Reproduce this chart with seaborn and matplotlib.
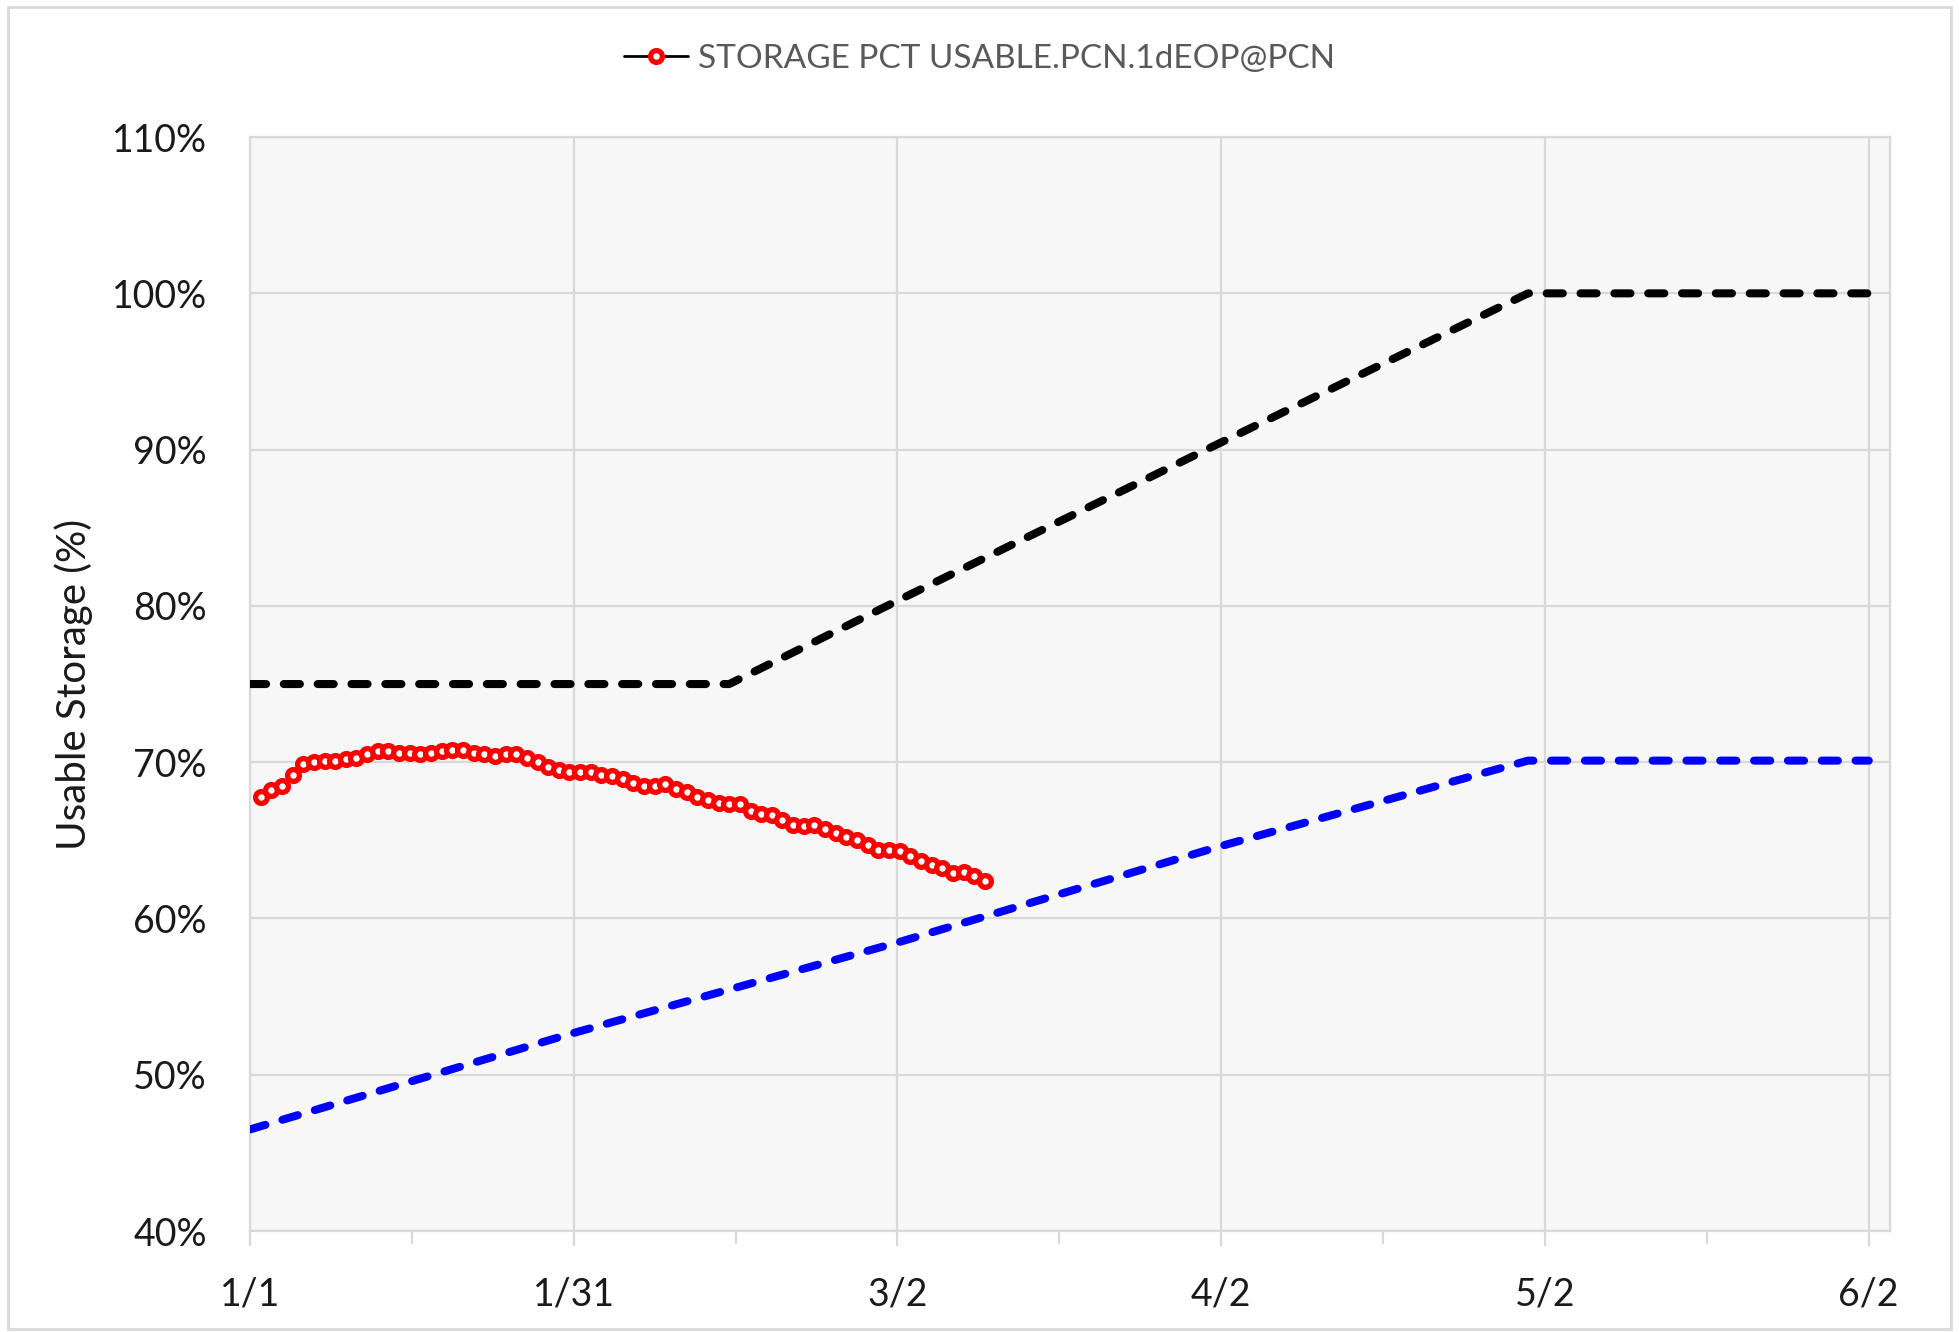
import matplotlib.pyplot as plt
import matplotlib.patches as mpatches
import numpy as np
import pandas as pd
import seaborn as sns

# daily storage observations (day 1 = Jan 2)
storage_days = list(range(1, 70))
storage_pct = [
    67.8, 68.2, 68.5, 69.2, 69.9, 70.0, 70.1, 70.1, 70.2, 70.3,
    70.5, 70.7, 70.7, 70.6, 70.6, 70.5, 70.6, 70.7, 70.8, 70.8,
    70.6, 70.5, 70.4, 70.5, 70.5, 70.3, 70.0, 69.7, 69.5, 69.4,
    69.4, 69.4, 69.2, 69.1, 68.9, 68.7, 68.5, 68.5, 68.6, 68.3,
    68.1, 67.8, 67.6, 67.4, 67.3, 67.3, 66.9, 66.7, 66.6, 66.3,
    66.0, 65.9, 66.0, 65.7, 65.5, 65.2, 65.0, 64.7, 64.4, 64.4,
    64.3, 64.0, 63.7, 63.4, 63.2, 62.9, 63.0, 62.7, 62.4,
]

# upper rule curve (black dashed)
upper_days = [0, 45, 61, 91, 120, 152]
upper_pct = [75.0, 75.0, 80.4, 90.4, 100.0, 100.0]

# lower rule curve (blue dashed)
lower_days = [0, 30, 61, 91, 120, 152]
lower_pct = [46.5, 52.6, 58.5, 64.6, 70.1, 70.1]

tick_labels = ["1/1", "1/31", "3/2", "4/2", "5/2", "6/2"]
series_name = "STORAGE PCT USABLE.PCN.1dEOP@PCN"

storage_df = pd.DataFrame({"day": storage_days, "pct": storage_pct})
upper_df = pd.DataFrame({"day": upper_days, "pct": upper_pct})
lower_df = pd.DataFrame({"day": lower_days, "pct": lower_pct})

sns.set_style("white")
plt.rcParams["font.family"] = ["Lato", "DejaVu Sans"]

fig = plt.figure(figsize=(19.59, 13.32), dpi=100)
ax = fig.add_axes([0.1276, 0.0758, 0.9648 - 0.1276, 0.8971 - 0.0758])
ax.set_facecolor("#f7f7f7")

sns.lineplot(data=upper_df, x="day", y="pct", ax=ax, color="black", lw=5.8,
             legend=False, zorder=3)
sns.lineplot(data=lower_df, x="day", y="pct", ax=ax, color="#0000ff", lw=5.8,
             legend=False, zorder=3)
for ln in ax.get_lines():
    ln.set_dashes((2.0, 2.2))
    ln.set_dash_capstyle("round")

sns.lineplot(data=storage_df, x="day", y="pct", ax=ax, color="black", lw=2,
             label=series_name, zorder=4)
for ln in ax.get_lines():
    if ln.get_label() == series_name:
        ln.set_marker("o")
        ln.set_markersize(8.5)
        ln.set_markerfacecolor("white")
        ln.set_markeredgecolor("red")
        ln.set_markeredgewidth(3.8)

ax.set_xlim(0, 154)
ax.set_ylim(40, 110)
ax.set_xticks(np.linspace(0, 152, 6))
ax.set_xticks(np.linspace(0, 152, 11), minor=True)
ax.set_xticklabels(tick_labels)
ax.set_yticks(range(40, 111, 10))
ax.set_yticklabels([f"{v}%" for v in range(40, 111, 10)])

ax.grid(True, which="major", color="#d9d9d9", lw=1.6, zorder=0)
ax.set_axisbelow(True)
for s in ax.spines.values():
    s.set_color("#d9d9d9")
    s.set_linewidth(1.6)

ax.tick_params(axis="x", which="major", bottom=True, length=11, width=1.6,
               color="#d9d9d9", pad=22, labelsize=27, labelcolor="#1a1a1a")
ax.tick_params(axis="x", which="minor", bottom=True, length=9, width=1.6,
               color="#d9d9d9")
ax.tick_params(axis="y", length=0, pad=31, labelsize=27, labelcolor="#1a1a1a")

ax.set_xlabel("")
ax.set_ylabel("Usable Storage (%)", fontsize=29, color="#1a1a1a")
ax.yaxis.set_label_coords(-0.096, 0.5)

ax.get_legend().remove()
handles, labels = ax.get_legend_handles_labels()
leg = fig.legend(handles, labels, loc="center", bbox_to_anchor=(0.5, 0.9557),
                 frameon=False, fontsize=24, handlelength=1.9, handletextpad=0.3)
for t in leg.get_texts():
    t.set_color("#595959")

# light chart border
fig.patches.append(mpatches.Rectangle(
    (0.004, 0.002), 0.992, 0.993, transform=fig.transFigure,
    fill=False, edgecolor="#d9d9d9", lw=2))

fig.savefig("out.png", dpi=100)
